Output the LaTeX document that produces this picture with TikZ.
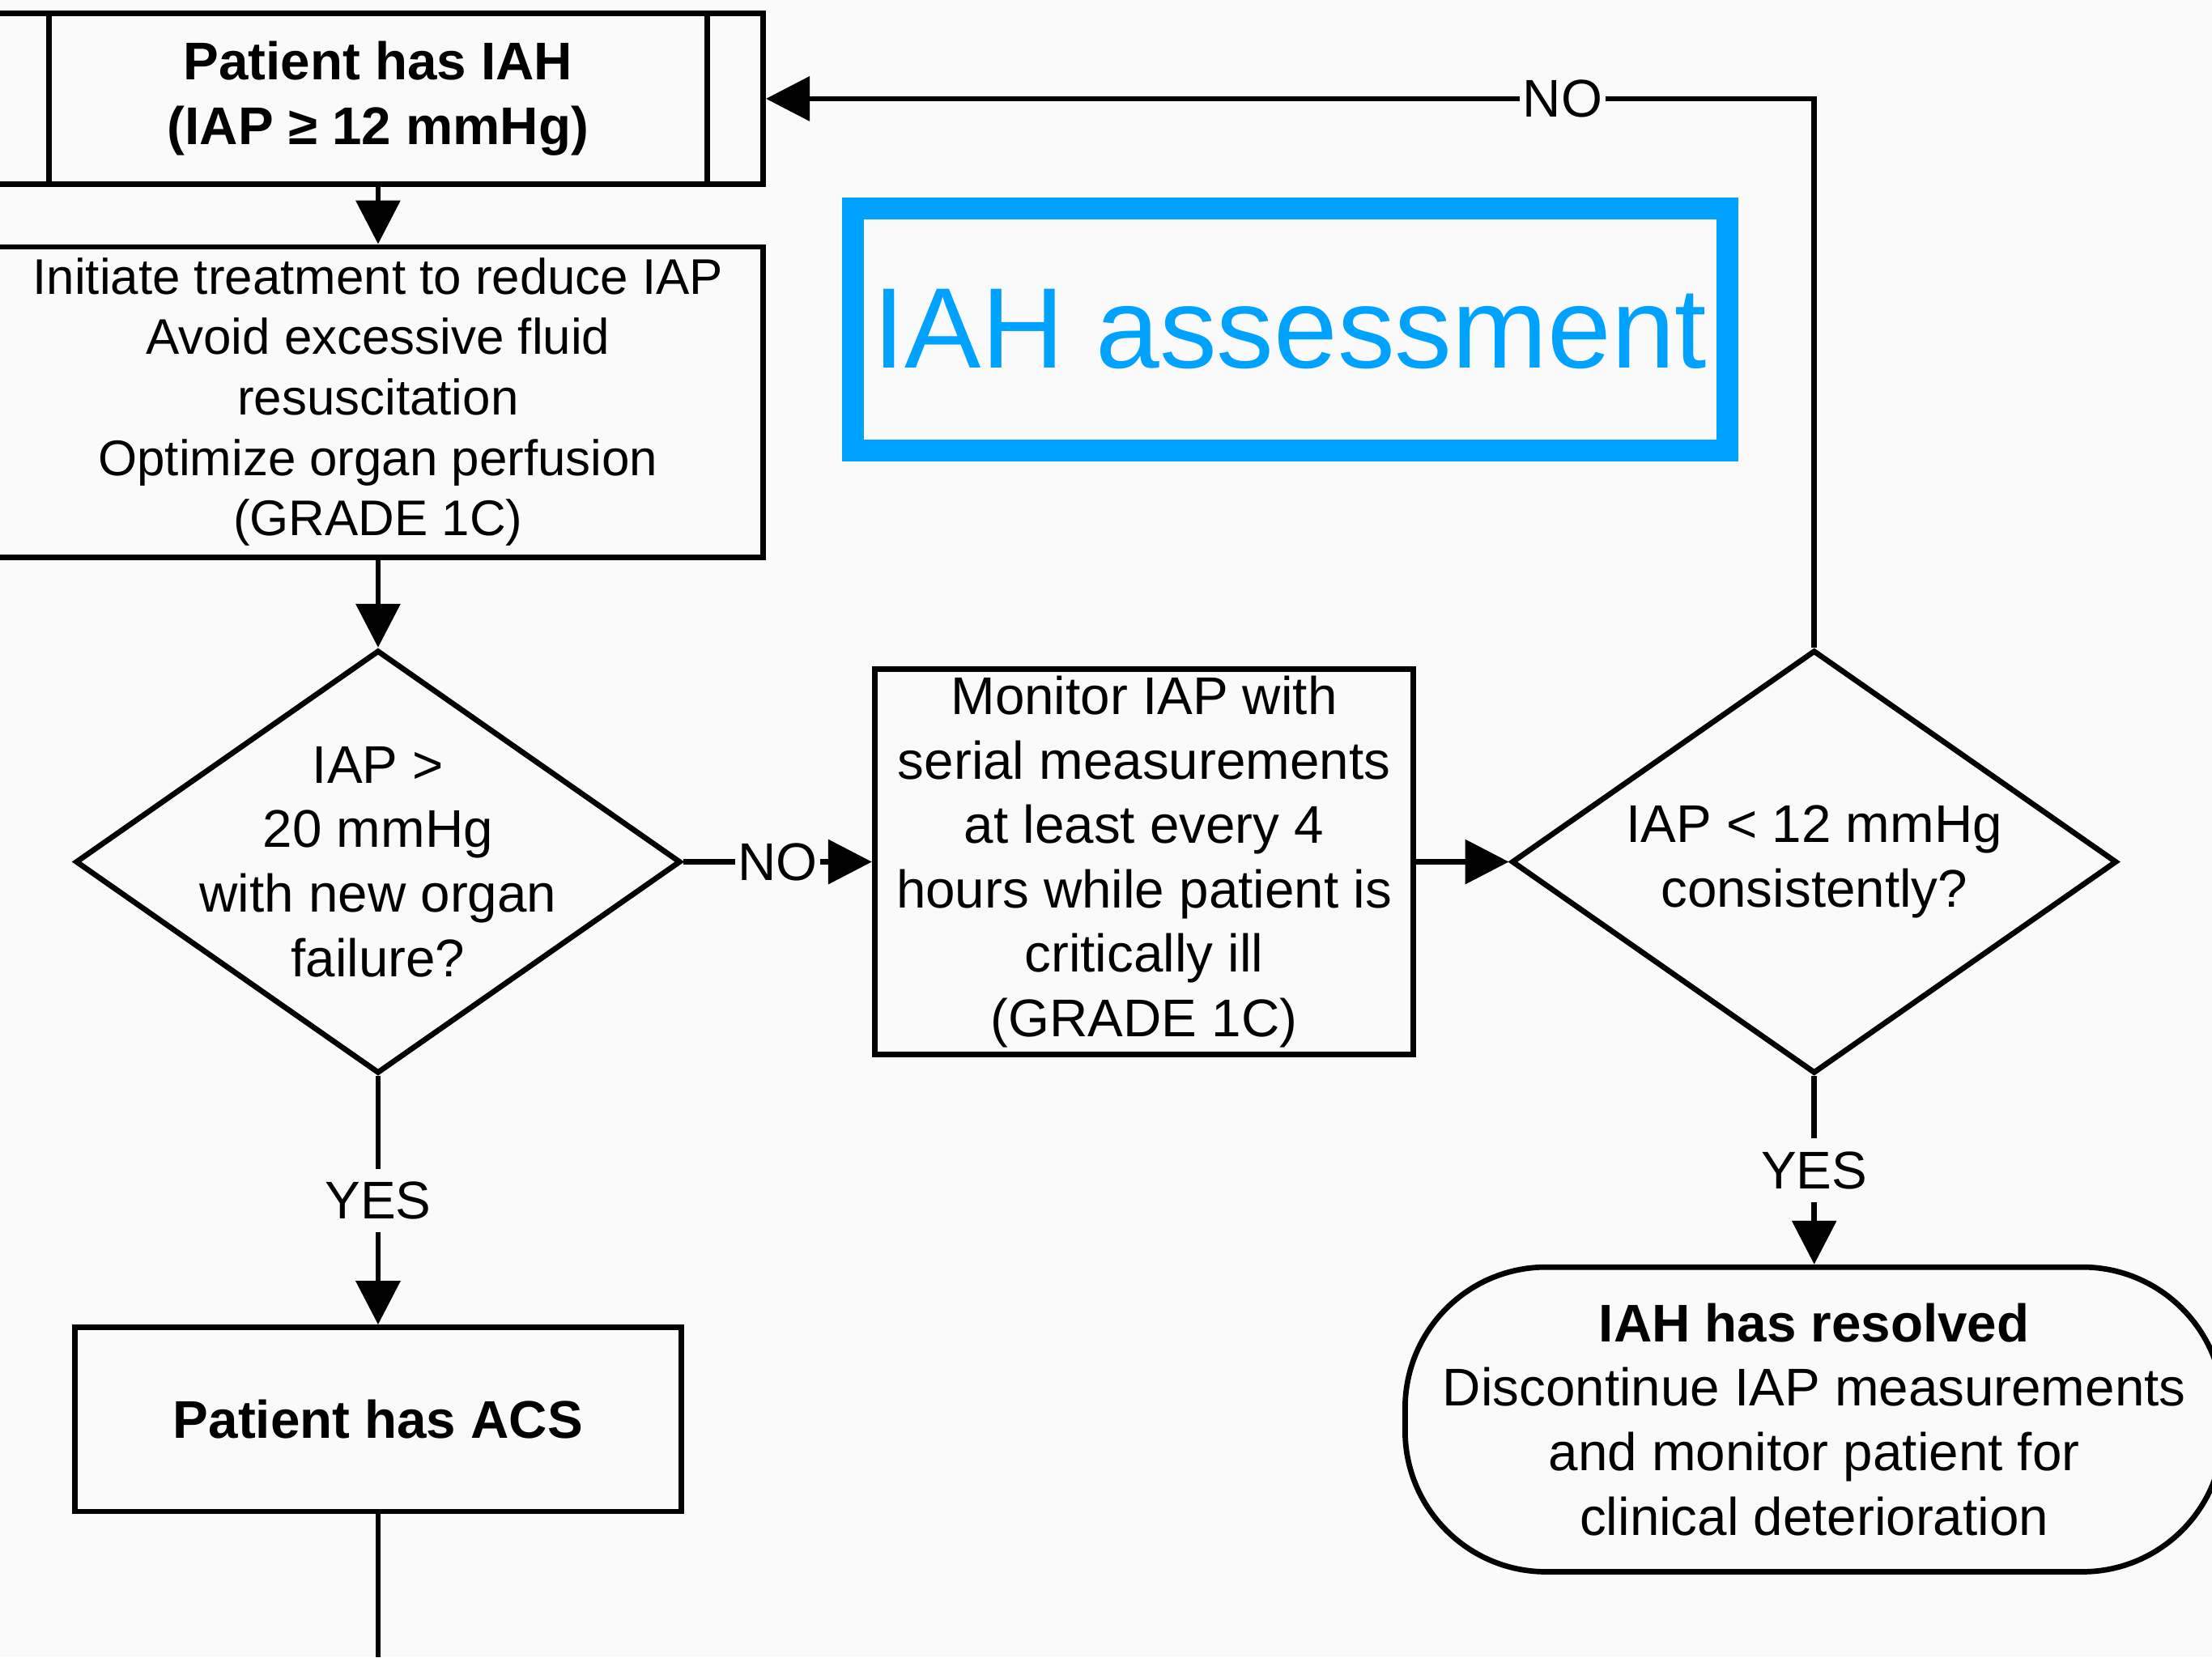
\documentclass[tikz,border=0pt]{standalone}
\usepackage{fontspec}
\setmainfont{Liberation Sans}
\usepackage{tikz}
\usetikzlibrary{arrows.meta,shapes.geometric}
\usepackage{xcolor}
\definecolor{paper}{RGB}{250,250,250}
\definecolor{iahblue}{RGB}{0,162,255}
\newcommand{\flowfont}{\fontsize{10.7pt}{13pt}\selectfont}
\tikzset{
  box/.style={draw,line width=1.1pt,rectangle,inner sep=0pt,align=center},
  decision/.style={draw,line width=1.1pt,diamond,inner sep=0pt,minimum width=4.29cm,minimum height=3cm},
  choice/.style={fill=paper,inner xsep=0.6pt,inner ysep=2.6pt},
  flow/.style={line width=1.1pt,->},
}

\begin{document}
\begin{tikzpicture}[>={Triangle[length=3.1mm,width=3.1mm]},font=\flowfont,line join=miter]
\useasboundingbox (0,0) rectangle (15.68,11.75);
\fill[paper] (0,0) rectangle (15.68,11.75);
\node[box,minimum width=5.46cm,minimum height=1.21cm,font=\flowfont\bfseries] (iah) at (2.68,11.05) {Patient has IAH\\(IAP ≥ 12 mmHg)};
\draw[line width=1.1pt] ([xshift=4.15mm]iah.north west) -- ([xshift=4.15mm]iah.south west);
\draw[line width=1.1pt] ([xshift=-4.15mm]iah.north east) -- ([xshift=-4.15mm]iah.south east);
\node[box,minimum width=5.46cm,minimum height=2.2cm,font=\fontsize{10.1pt}{12.2pt}\selectfont] (treat) at (2.68,8.9) {Initiate treatment to reduce IAP\\Avoid excessive fluid\\resuscitation\\Optimize organ perfusion\\(GRADE 1C)};
\node[decision,label={[align=center]center:IAP >\\20 mmHg\\with new organ\\failure?}] (acscheck) at (2.68,5.64) {};
\node[box,minimum width=3.82cm,minimum height=2.73cm] (monitor) at (8.11,5.64) {Monitor IAP with\\serial measurements\\at least every 4\\hours while patient is\\critically ill\\(GRADE 1C)};
\node[decision,label={[align=center]center:IAP < 12 mmHg\\consistently?}] (lowcheck) at (12.86,5.64) {};
\node[box,minimum width=4.3cm,minimum height=1.306cm,font=\flowfont\bfseries] (acs) at (2.68,1.687) {Patient has ACS};
\node[box,rounded corners=1cm,minimum width=5.8cm,minimum height=2.16cm] (resolved) at (12.86,1.687) {{\bfseries IAH has resolved}\\Discontinue IAP measurements\\and monitor patient for\\clinical deterioration};
\node[draw=iahblue,line width=4.4pt,minimum width=6.195cm,minimum height=1.715cm,inner sep=0pt,text=iahblue,font=\fontsize{23.1pt}{27pt}\selectfont] (title) at (9.145,9.415) {IAH assessment};
\coordinate (acsout) at (2.68,0);

\draw[flow] (iah) -- (treat);
\draw[flow] (treat) -- (acscheck);
\draw[flow] (acscheck.east) -- node[choice]{NO} (monitor.west);
\draw[flow] (monitor.east) -- (lowcheck.west);
\draw[flow] (lowcheck.north) -- (lowcheck.north |- iah.east) -- node[choice,pos=0.24]{NO} (iah.east);
\draw[flow] (lowcheck.south) -- node[choice]{YES} (resolved.north);
\draw[flow] (acscheck.south) -- node[choice]{YES} (acs.north);
\draw[line width=1.1pt] (acs.south) -- (acsout);
\end{tikzpicture}
\end{document}
